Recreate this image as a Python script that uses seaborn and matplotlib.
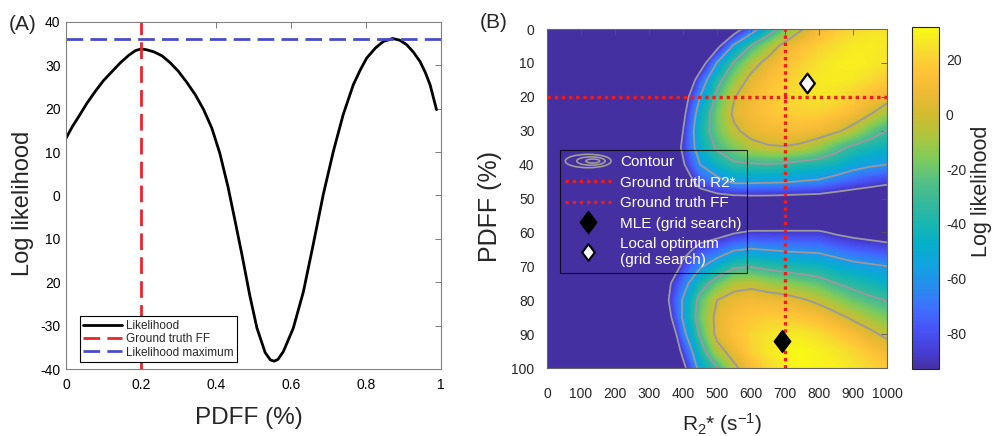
import numpy as np
import matplotlib
matplotlib.use("Agg")
import matplotlib.pyplot as plt
import seaborn as sns
from matplotlib.colors import LinearSegmentedColormap
from matplotlib.lines import Line2D
from matplotlib.patches import Ellipse
from matplotlib.path import Path
from matplotlib.legend_handler import HandlerBase

# ---------------- Panel A data ----------------
pdff_a = [0, 0.017, 0.034, 0.056, 0.078, 0.1, 0.123, 0.145, 0.167, 0.185, 0.2,
          0.215, 0.235, 0.256, 0.278, 0.3, 0.322, 0.345, 0.367, 0.389, 0.41,
          0.432, 0.45, 0.47, 0.49, 0.509, 0.531, 0.545, 0.555, 0.565, 0.5795,
          0.606, 0.633, 0.659, 0.686, 0.713, 0.739, 0.766, 0.785, 0.802, 0.825,
          0.846, 0.871, 0.89, 0.908, 0.926, 0.944, 0.958, 0.971, 0.988]
loglik_a = [13.2, 15.9, 18.2, 21.3, 24.0, 26.5, 28.6, 30.6, 32.3, 33.4, 33.8,
            33.6, 33.1, 32.2, 30.6, 28.6, 26.1, 23.2, 19.8, 15.5, 9.8,
            2.0, -5.5, -14.0, -23.0, -30.5, -36.2, -37.9, -38.2, -37.8, -36.0,
            -30.6, -22.2, -11.4, 0.2, 10.2, 18.6, 25.5, 29.0, 31.7, 34.0,
            35.5, 36.2, 35.8, 34.8, 33.1, 30.9, 28.4, 25.5, 19.8]
truth_ff_a = 0.2
lik_max_a = 36.0
xticks_a = [0, 0.2, 0.4, 0.6, 0.8, 1.0]
xticklabels_a = ["0", "0.2", "0.4", "0.6", "0.8", "1"]
yticks_a = [40, 30, 20, 10, 0, -10, -20, -30, -40]
yticklabels_a = ["40", "30", "20", "10", "0", "10", "20", "-30", "-40"]
legend_a = ["Likelihood", "Ground truth FF", "Likelihood maximum"]

# ---------------- Panel B data ----------------
r2_grid = [0, 50, 100, 150, 200, 250, 300, 350, 400, 450, 500, 550, 600, 650,
           700, 750, 800, 850, 900, 950, 1000]
pdff_grid = [0, 5, 10, 15, 20, 25, 30, 35, 40, 45, 50, 55, 60, 65, 70, 75, 80,
             85, 90, 95, 100]
_far = [-130, -130, -130, -130, -130, -130, -130]
loglik_b = [
    _far + [-130, -130, -130, -130, -105, -73, -42, -19, -1, 10, 18, 23, 25, 26],
    _far + [-130, -130, -130, -98, -56, -29, -11, 6, 14, 20, 24, 27, 28, 27],
    _far + [-130, -130, -106, -59, -28, -8, 6, 14, 20, 25, 28, 29, 28, 25],
    _far + [-130, -125, -76, -37, -13, 5, 13, 19, 24, 27, 28, 27, 23, 18],
    _far + [-130, -105, -60, -25, -1, 10, 17, 22, 24, 26, 25, 20, 14, 7],
    _far + [-125, -97, -48, -18, 3, 10, 15, 19, 20, 20, 16, 11, 1, -11],
    _far + [-120, -90, -42, -20, -3, 6, 10, 11, 11, 9, 3, -6, -20, -30],
    _far + [-118, -86, -48, -27, -17, -6, -2, -1, -4, -12, -24, -34, -40, -45],
    _far + [-125, -93, -60, -44, -33, -32, -31, -33, -37, -39, -43, -52, -57, -60],
    _far + [-130, -110, -78, -67, -56, -56, -57, -58, -61, -63, -70, -76, -81, -85],
    _far + [-130, -130, -108, -100, -98, -97, -97, -98, -99, -100, -103, -106, -108, -112],
    _far + [-130, -130, -130, -125, -122, -120, -119, -118, -118, -118, -122, -125, -128, -130],
    _far + [-130, -125, -105, -99, -92, -87, -87, -87, -87, -87, -93, -97, -100, -103],
    _far + [-130, -100, -82, -74, -62, -59, -61, -63, -64, -65, -70, -75, -78, -81],
    _far + [-125, -83, -63, -47, -33, -31, -35, -38, -41, -43, -49, -54, -57, -60],
    _far + [-98, -70, -39, -21, -7, -5, -10, -14, -18, -22, -30, -36, -41, -46],
    _far + [-96, -58, -24, 0, 7, 10, 9, 7, 2, -4, -12, -20, -26, -31],
    _far + [-105, -57, -20, 5, 13, 17, 19, 19, 16, 12, 5, -3, -10, -17],
    _far + [-125, -67, -27, 5, 14, 21, 25, 27, 27, 24, 19, 12, 4, -4],
    _far + [-130, -83, -40, -7, 8, 20, 27, 30, 31, 29, 26, 22, 16, 10],
    _far + [-130, -98, -52, -30, -4, 12, 22, 28, 31, 30, 29, 26, 22, 18],
]
contour_levels = [-90, -60, -30, 0]
truth_r2_b = 700
truth_ff_b = 20
mle_r2 = [690]
mle_ff = [92]
local_r2 = [765]
local_ff = [16]
cbar_ticks = [20, 0, -20, -40, -60, -80]
cbar_lim = (-93, 32)
legend_b = ["Contour", "Ground truth R2*", "Ground truth FF",
            "MLE (grid search)", "Local optimum\n(grid search)"]

# ---------------- style ----------------
sns.set_style("white")
plt.rcParams['font.family'] = ['Liberation Sans', 'DejaVu Sans']
plt.rcParams['mathtext.fontset'] = 'custom'
plt.rcParams['mathtext.rm'] = 'Liberation Sans'
plt.rcParams['mathtext.it'] = 'Liberation Sans:italic'
plt.rcParams['axes.unicode_minus'] = False

parula_anchors = [
    (0.000, (0.2700, 0.1900, 0.6300)),
    (0.048, (0.2750, 0.2400, 0.8300)),
    (0.111, (0.2810, 0.3228, 0.9579)),
    (0.175, (0.2440, 0.4358, 0.9988)),
    (0.238, (0.1540, 0.5502, 0.9318)),
    (0.302, (0.0709, 0.6385, 0.8829)),
    (0.365, (0.0279, 0.6842, 0.7947)),
    (0.429, (0.1000, 0.7147, 0.6836)),
    (0.492, (0.2178, 0.7250, 0.6063)),
    (0.556, (0.3406, 0.7544, 0.5078)),
    (0.619, (0.5044, 0.7993, 0.3480)),
    (0.683, (0.6826, 0.7724, 0.2437)),
    (0.746, (0.8185, 0.7327, 0.1882)),
    (0.810, (0.9411, 0.7273, 0.2097)),
    (0.873, (0.9990, 0.7653, 0.2164)),
    (0.937, (0.9672, 0.8698, 0.1850)),
    (1.000, (0.9769, 0.9839, 0.0805)),
]
parula = LinearSegmentedColormap.from_list("parula", parula_anchors)

W, H = 994, 436
fig = plt.figure(figsize=(W / 100, H / 100), dpi=100)


def rect(x0, y0, x1, y1):
    return [x0 / W, 1 - y1 / H, (x1 - x0) / W, (y1 - y0) / H]


ax1 = fig.add_axes(rect(66, 22, 441, 369))
ax2 = fig.add_axes(rect(547, 29, 887, 368))
cax = fig.add_axes(rect(912, 27, 939, 369))

# ---------------- Panel A ----------------
red = '#e8262a'
blue = '#4b4bc8'
sns.lineplot(x=pdff_a, y=loglik_a, ax=ax1, color='black', linewidth=2.0,
             estimator=None, sort=False, label=legend_a[0], legend=False)
ax1.axvline(truth_ff_a, color=red, lw=2.0, ls=(0, (6, 2.6)), label=legend_a[1])
ax1.axhline(lik_max_a, color=blue, lw=2.0, ls=(0, (6, 2.6)), label=legend_a[2])
ax1.set_xlim(0, 1)
ax1.set_ylim(-40, 40)
ax1.set_xticks(xticks_a)
ax1.set_xticklabels(xticklabels_a)
ax1.set_yticks(yticks_a)
ax1.set_yticklabels(yticklabels_a)
ax1.set_xlabel("")
ax1.set_ylabel("")
ax1.tick_params(direction='in', length=4, width=0.6, color='#666666',
                labelcolor='black', top=True, right=True, labelsize=10)
ax1.tick_params(axis='x', pad=6.5)
ax1.tick_params(axis='y', pad=4)
for s in ax1.spines.values():
    s.set_color('#808080')
    s.set_linewidth(0.8)
h, l = ax1.get_legend_handles_labels()
leg1 = ax1.legend(h, l, loc='lower left', bbox_to_anchor=(0.037, 0.02),
                  borderaxespad=0, fontsize=8.5, handlelength=3.3,
                  handletextpad=0.3, labelspacing=0.12, borderpad=0.3,
                  fancybox=False, framealpha=1, edgecolor='black')
leg1.get_frame().set_linewidth(0.8)

fig.text(23 / W, 1 - 203 / H, "Log likelihood", rotation=90, ha='center',
         va='center', fontsize=17)
fig.text(249 / W, 1 - 418 / H, "PDFF (%)", ha='center', va='center', fontsize=17.5)
fig.text(23 / W, 1 - 24 / H, "(A)", ha='center', va='center', fontsize=15)
fig.text(494 / W, 1 - 23 / H, "(B)", ha='center', va='center', fontsize=15)

# ---------------- Panel B ----------------
Z = np.array(loglik_b, dtype=float)
im = ax2.imshow(Z, extent=[-25, 1025, 102.5, -2.5], cmap=parula,
                vmin=cbar_lim[0], vmax=cbar_lim[1], interpolation='bilinear',
                aspect='auto')
ax2.contour(r2_grid, pdff_grid, Z, levels=contour_levels, colors='#9a98a0',
            linewidths=1.3, linestyles='solid')
dot_red = '#ee1c1c'
ax2.axvline(truth_r2_b, color=dot_red, lw=2.4, ls=(0, (1, 1.15)))
ax2.axhline(truth_ff_b, color=dot_red, lw=2.4, ls=(0, (1, 1.15)))

diamond = Path([(0, 1), (0.75, 0), (0, -1), (-0.75, 0), (0, 1)],
               [Path.MOVETO, Path.LINETO, Path.LINETO, Path.LINETO, Path.CLOSEPOLY])
sns.scatterplot(x=mle_r2, y=mle_ff, ax=ax2, marker=diamond, s=250,
                color='black', edgecolor='black', linewidth=1, zorder=6)
sns.scatterplot(x=local_r2, y=local_ff, ax=ax2, marker=diamond, s=200,
                color='white', edgecolor='black', linewidth=1.6, zorder=6)

ax2.set_xlim(0, 1000)
ax2.set_ylim(100, 0)
ax2.set_xticks(range(0, 1001, 100))
ax2.set_yticks(range(0, 101, 10))
ax2.tick_params(direction='in', length=4, width=0.6, color='#555555',
                top=True, right=True, labelsize=10)
ax2.tick_params(axis='x', pad=14)
ax2.tick_params(axis='y', pad=9)
for s in ax2.spines.values():
    s.set_color('#666666')
    s.set_linewidth(0.8)


class ContourHandle:
    pass


class HandlerEllipses(HandlerBase):
    def create_artists(self, legend, orig_handle, xdescent, ydescent, width,
                       height, fontsize, trans):
        cx = width / 2 - xdescent
        cy = height / 2 - ydescent
        arts = []
        for f, dx in ((1.0, 0), (0.62, 0.06), (0.3, 0.1)):
            e = Ellipse((cx + dx * width, cy), width * f, height * 1.25 * f,
                        fill=False, edgecolor='#a09c98', lw=1.2, transform=trans)
            arts.append(e)
        return arts


handles_b = [
    ContourHandle(),
    Line2D([], [], color=dot_red, lw=2.4, ls=(0, (1, 1.15))),
    Line2D([], [], color=dot_red, lw=2.4, ls=(0, (1, 1.15))),
    Line2D([], [], ls='none', marker=diamond, ms=16, color='black',
           markeredgecolor='black'),
    Line2D([], [], ls='none', marker=diamond, ms=12, color='white',
           markeredgecolor='black', markeredgewidth=1.5),
]
leg2 = ax2.legend(handles_b, legend_b, handler_map={ContourHandle: HandlerEllipses()},
                  loc='upper left', bbox_to_anchor=(0.038, 0.643), borderaxespad=0,
                  fontsize=11, handlelength=3.0, handletextpad=0.6,
                  labelspacing=0.42, borderpad=0.35, fancybox=False,
                  frameon=True, edgecolor='black')
leg2.get_frame().set_facecolor('none')
leg2.get_frame().set_linewidth(0.8)
for t in leg2.get_texts():
    t.set_color('white')

cb = fig.colorbar(im, cax=cax, ticks=cbar_ticks)
cax.tick_params(labelsize=10, length=3, direction='in', pad=5, width=0.6)
cb.outline.set_linewidth(0.8)

fig.text(490 / W, 1 - 207 / H, "PDFF (%)", rotation=90, ha='center', va='center',
         fontsize=18)
fig.text(722 / W, 1 - 424 / H, r"R$_2$* (s$^{-1}$)", ha='center', va='center',
         fontsize=15)
fig.text(982 / W, 1 - 191 / H, "Log likelihood", rotation=90, ha='center',
         va='center', fontsize=15.5)

fig.savefig("out.png", dpi=100)
